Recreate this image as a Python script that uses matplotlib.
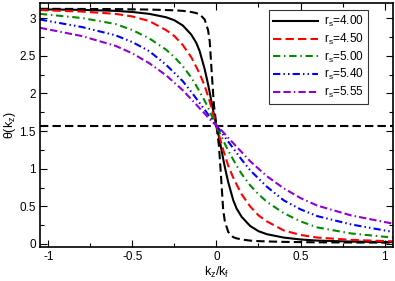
import numpy as np
import matplotlib
matplotlib.use("Agg")
import matplotlib.pyplot as plt
from matplotlib.ticker import MultipleLocator, FormatStrFormatter

plt.rcParams["font.family"] = ["Liberation Sans", "DejaVu Sans"]
plt.rcParams["mathtext.fontset"] = "custom"
plt.rcParams["mathtext.rm"] = "Liberation Sans"
plt.rcParams["mathtext.it"] = "Liberation Sans"

# k_z/k_f grid
kz = [-1.05, -0.8, -0.6, -0.5, -0.4, -0.3, -0.25, -0.2, -0.15, -0.12, -0.1, -0.07, -0.05, -0.04, -0.03, -0.015, 0,
      0.015, 0.03, 0.04, 0.05, 0.07, 0.1, 0.12, 0.15, 0.2, 0.25, 0.3, 0.4, 0.5, 0.6, 0.8, 1.05]

theta_ref = [3.124, 3.122, 3.120, 3.117, 3.114, 3.108, 3.104, 3.097, 3.082, 3.067, 3.052, 2.982, 2.842, 2.692, 2.342, 1.842, 1.571,
             1.30, 0.80, 0.45, 0.30, 0.16, 0.09, 0.075, 0.06, 0.045, 0.038, 0.034, 0.028, 0.025, 0.022, 0.02, 0.018]
theta_400 = [3.117, 3.110, 3.097, 3.082, 3.057, 3.012, 2.972, 2.902, 2.782, 2.672, 2.562, 2.322, 2.122, 2.012, 1.892, 1.722, 1.571,
             1.42, 1.25, 1.13, 1.02, 0.82, 0.58, 0.47, 0.36, 0.24, 0.17, 0.13, 0.085, 0.06, 0.045, 0.032, 0.025]
theta_450 = [3.107, 3.087, 3.057, 3.022, 2.962, 2.842, 2.762, 2.642, 2.482, 2.352, 2.262, 2.102, 1.962, 1.892, 1.812, 1.692, 1.571,
             1.45, 1.33, 1.25, 1.18, 1.04, 0.88, 0.79, 0.66, 0.50, 0.38, 0.30, 0.18, 0.12, 0.085, 0.055, 0.035]
theta_500 = [3.057, 3.002, 2.922, 2.842, 2.732, 2.582, 2.482, 2.362, 2.212, 2.102, 2.022, 1.902, 1.812, 1.762, 1.712, 1.642, 1.571,
             1.50, 1.43, 1.38, 1.33, 1.24, 1.12, 1.04, 0.93, 0.78, 0.66, 0.56, 0.41, 0.30, 0.22, 0.14, 0.085]
theta_540 = [2.982, 2.882, 2.772, 2.682, 2.562, 2.382, 2.272, 2.162, 2.022, 1.932, 1.872, 1.782, 1.722, 1.692, 1.662, 1.612, 1.571,
             1.53, 1.48, 1.45, 1.42, 1.36, 1.27, 1.21, 1.12, 0.98, 0.87, 0.76, 0.58, 0.46, 0.37, 0.26, 0.16]
theta_555 = [2.872, 2.762, 2.632, 2.532, 2.402, 2.242, 2.142, 2.042, 1.922, 1.852, 1.802, 1.732, 1.682, 1.657, 1.632, 1.602, 1.571,
             1.54, 1.51, 1.485, 1.46, 1.41, 1.34, 1.29, 1.22, 1.10, 1.00, 0.90, 0.74, 0.61, 0.51, 0.38, 0.27]

rs_labels = ["4.00", "4.50", "5.00", "5.40", "5.55"]
half_pi = np.pi / 2

fig = plt.figure(figsize=(3.95, 2.81), dpi=100)
ax = fig.add_axes([0.101, 0.121, 0.894, 0.868])

ax.plot(kz, theta_ref, color="black", lw=1.5, dashes=(4, 2))
ax.axhline(half_pi, color="black", lw=1.5, dashes=(4, 2))

styles = [
    dict(color="black", lw=1.5, ls="-"),
    dict(color="#ff0000", lw=1.5, dashes=(4, 2)),
    dict(color="#008c00", lw=1.5, dashes=(3.5, 1.8, 0.7, 1.8)),
    dict(color="#0000ff", lw=1.5, dashes=(3.5, 1.5, 0.7, 1.5, 0.7, 1.5)),
    dict(color="#9400d3", lw=1.5, dashes=(3.5, 1.5, 3.5, 1.5, 0.7, 1.5)),
]
series = [theta_400, theta_450, theta_500, theta_540, theta_555]
for th, lab, st in zip(series, rs_labels, styles):
    ax.plot(kz, th, label="r$_s$=" + lab, **st)

ax.set_xlim(-1.05, 1.05)
ax.set_ylim(-0.04, 3.2)
ax.xaxis.set_major_locator(MultipleLocator(0.5))
ax.xaxis.set_minor_locator(MultipleLocator(0.25))
ax.yaxis.set_major_locator(MultipleLocator(0.5))
ax.yaxis.set_minor_locator(MultipleLocator(0.25))
ax.xaxis.set_major_formatter(FormatStrFormatter("%g"))
ax.yaxis.set_major_formatter(FormatStrFormatter("%g"))
ax.tick_params(which="both", direction="in", top=True, right=True, labelsize=8.5, width=0.8)
ax.tick_params(which="major", length=5, pad=3)
ax.tick_params(which="minor", length=3)
for s in ax.spines.values():
    s.set_linewidth(1.2)

ax.set_xlabel("k$_z$/k$_f$", fontsize=9, labelpad=1)
ax.set_ylabel("θ(k$_z$)", fontsize=9, labelpad=1)

leg = ax.legend(loc="upper right", bbox_to_anchor=(0.929, 0.972), fontsize=8.5, handlelength=3.8,
                frameon=True, fancybox=False, borderpad=0.35, labelspacing=0.22, handletextpad=0.5,
                borderaxespad=0)
leg.get_frame().set_edgecolor("black")
leg.get_frame().set_linewidth(0.8)

fig.savefig("out.png", dpi=100)
